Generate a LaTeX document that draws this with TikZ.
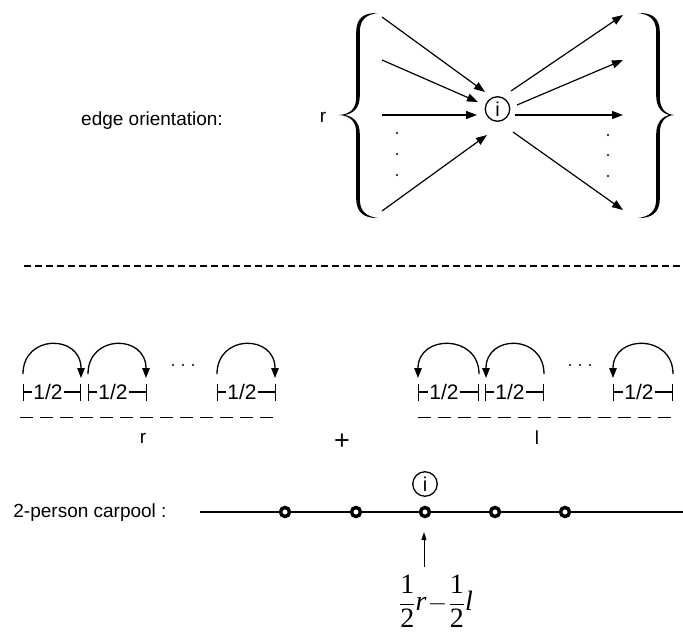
\documentclass[tikz,border=0pt]{standalone}
\usepackage{fontspec}
\setmainfont{Liberation Sans}
\newfontfamily\tmr{Liberation Serif}
\usetikzlibrary{arrows.meta}
\begin{document}
\begin{tikzpicture}[x=1pt,y=-1pt,
 lab/.style={font=\fontsize{19}{22}\selectfont, inner sep=0},
 arr/.style={line width=1.2pt,-{Triangle[length=11pt,width=8pt]}},
 hop/.style={line width=1.3pt,-{Triangle[length=10pt,width=7.5pt]}},
 span/.style={line width=1.2pt,{Bar[width=17pt]}-{Bar[width=17pt]}},
 half/.style={font=\fontsize{21}{22}\selectfont, fill=white, inner sep=1.5pt},
 icirc/.style={circle,draw,line width=1.3pt,inner sep=0,minimum size=24.5pt,font=\fontsize{20}{20}\selectfont},
 stopdot/.style={circle,draw,line width=3.4pt,fill=white,inner sep=0,minimum size=9pt},
 tdot/.style={circle,fill,inner sep=0,minimum size=2.2pt},
 bracefill/.style={fill=black}
]
\useasboundingbox (0,0) rectangle (683,634);

% ---------- top part ----------
\node[lab] (eo) at (152,121) {edge orientation:};
\node[lab] (rtop) at (323,117) {r};

% left brace
\fill[bracefill] (378,13) .. controls (364,12.5) and (356.2,18) .. (356.2,32) -- (356.2,97)
 .. controls (356.2,108) and (351,114.2) .. (339,115)
 .. controls (351,115.8) and (356.2,122) .. (356.2,133) -- (356.2,199)
 .. controls (356.2,212) and (364,218.5) .. (378,218)
 .. controls (366,216.5) and (359.8,211) .. (359.8,199) -- (359.8,134)
 .. controls (359.8,122) and (353,116.5) .. (345,115)
 .. controls (353,113.5) and (359.8,108) .. (359.8,96) -- (359.8,32)
 .. controls (359.8,20) and (366,14.5) .. (378,13) -- cycle;
% right brace
\fill[bracefill] (638,13) .. controls (652,12.5) and (659.8,18) .. (659.8,32) -- (659.8,97)
 .. controls (659.8,108) and (665,114.2) .. (674,115)
 .. controls (665,115.8) and (659.8,122) .. (659.8,133) -- (659.8,199)
 .. controls (659.8,212) and (652,218.5) .. (638,218)
 .. controls (650,216.5) and (656.2,211) .. (656.2,199) -- (656.2,134)
 .. controls (656.2,122) and (663,116.5) .. (669,115)
 .. controls (663,113.5) and (656.2,108) .. (656.2,96) -- (656.2,32)
 .. controls (656.2,20) and (650,14.5) .. (638,13) -- cycle;

\node[icirc] (ci) at (497.5,109) {i};

\coordinate (a1s) at (382,17);  \coordinate (a1e) at (485,92);
\coordinate (a2s) at (382,60);  \coordinate (a2e) at (478,102);
\coordinate (a3s) at (382,115); \coordinate (a3e) at (477,115);
\coordinate (a4s) at (382,211); \coordinate (a4e) at (487,135);
\draw[arr] (a1s) -- (a1e);
\draw[arr] (a2s) -- (a2e);
\draw[arr] (a3s) -- (a3e);
\draw[arr] (a4s) -- (a4e);

\coordinate (b1s) at (511,91);  \coordinate (b1e) at (623,15);
\coordinate (b2s) at (517,105); \coordinate (b2e) at (623,60);
\coordinate (b3s) at (515,115); \coordinate (b3e) at (623,115);
\coordinate (b4s) at (513,132); \coordinate (b4e) at (623,210);
\draw[arr] (b1s) -- (b1e);
\draw[arr] (b2s) -- (b2e);
\draw[arr] (b3s) -- (b3e);
\draw[arr] (b4s) -- (b4e);

\node[tdot] (ld1) at (397,133) {}; \node[tdot] (ld2) at (397,154) {}; \node[tdot] (ld3) at (397,175) {};
\node[tdot] (rd1) at (608,135) {}; \node[tdot] (rd2) at (608,155) {}; \node[tdot] (rd3) at (608,176) {};

% separator
\coordinate (sepL) at (24,266); \coordinate (sepR) at (683,266);
\draw[line width=1.3pt, dash pattern=on 7pt off 4pt] (sepL) -- (sepR);

% ---------- lower left: r ----------
\coordinate (h1s) at (23,374);  \coordinate (h1e) at (81,378);
\coordinate (h2s) at (88,374);  \coordinate (h2e) at (146,378);
\coordinate (h3s) at (217,374); \coordinate (h3e) at (275,378);
\draw[hop] (h1s) .. controls (23,334) and (81,334) .. (h1e);
\draw[hop] (h2s) .. controls (88,334) and (146,334) .. (h2e);
\draw[hop] (h3s) .. controls (217,334) and (275,334) .. (h3e);
\node[tdot] (ldd1) at (173,365) {}; \node[tdot] (ldd2) at (183,365) {}; \node[tdot] (ldd3) at (193,365) {};

\coordinate (s1a) at (23,392);  \coordinate (s1b) at (81,392);
\coordinate (s2a) at (88,392);  \coordinate (s2b) at (147,392);
\coordinate (s3a) at (217,392); \coordinate (s3b) at (276,392);
\draw[span] (s1a) -- (s1b);
\draw[span] (s2a) -- (s2b);
\draw[span] (s3a) -- (s3b);
\node[half] (t1) at (48,391.5) {1/2};
\node[half] (t2) at (113,391.5) {1/2};
\node[half] (t3) at (242,391.5) {1/2};

\coordinate (rlA) at (20,417); \coordinate (rlB) at (278,417);
\draw[line width=1pt, dash pattern=on 13pt off 7pt] (rlA) -- (rlB);
\node[lab] (rlab) at (143,438) {r};

% ---------- lower right: l ----------
\coordinate (g1s) at (479,374); \coordinate (g1e) at (418,378);
\coordinate (g2s) at (544,374); \coordinate (g2e) at (486,378);
\coordinate (g3s) at (673,374); \coordinate (g3e) at (613,378);
\draw[hop] (g1s) .. controls (479,334) and (418,334) .. (g1e);
\draw[hop] (g2s) .. controls (544,334) and (486,334) .. (g2e);
\draw[hop] (g3s) .. controls (673,334) and (613,334) .. (g3e);
\node[tdot] (rdd1) at (570,365) {}; \node[tdot] (rdd2) at (580,365) {}; \node[tdot] (rdd3) at (590,365) {};

\coordinate (u1a) at (418,392); \coordinate (u1b) at (479,392);
\coordinate (u2a) at (485,392); \coordinate (u2b) at (544,392);
\coordinate (u3a) at (613,392); \coordinate (u3b) at (673,392);
\draw[span] (u1a) -- (u1b);
\draw[span] (u2a) -- (u2b);
\draw[span] (u3a) -- (u3b);
\node[half] (v1) at (444,391.5) {1/2};
\node[half] (v2) at (510,391.5) {1/2};
\node[half] (v3) at (639,391.5) {1/2};

\coordinate (llA) at (418,417); \coordinate (llB) at (677,417);
\draw[line width=1pt, dash pattern=on 13pt off 7pt] (llA) -- (llB);
\node[lab] (llab) at (537,438) {l};

\node[font=\fontsize{27}{27}\selectfont, inner sep=0] (plus) at (342,442) {+};

% ---------- carpool line ----------
\node[lab] (cp) at (90,513) {2-person carpool :};
\coordinate (L0) at (200,512); \coordinate (L1) at (683,512);
\draw[line width=1.4pt] (L0) -- (L1);
\node[stopdot] (p1) at (285,512) {};
\node[stopdot] (p2) at (356,512) {};
\node[stopdot] (p3) at (425,512) {};
\node[stopdot] (p4) at (495,512) {};
\node[stopdot] (p5) at (565,512) {};
\node[icirc] (cj) at (425,484) {i};

\coordinate (up0) at (424,567); \coordinate (up1) at (424,532);
\draw[line width=1pt,-{Triangle[length=8pt,width=5pt]}] (up0) -- (up1);

\node[font=\fontsize{28}{32}\selectfont, inner sep=0] (frm) at (436,601)
 {$\displaystyle\frac{\hbox{\tmr 1}}{\hbox{\tmr 2}}\hbox{\tmr\itshape r}\mkern-3mu-\mkern-3mu\frac{\hbox{\tmr 1}}{\hbox{\tmr 2}}\hbox{\tmr\itshape l}$};
\end{tikzpicture}
\end{document}
